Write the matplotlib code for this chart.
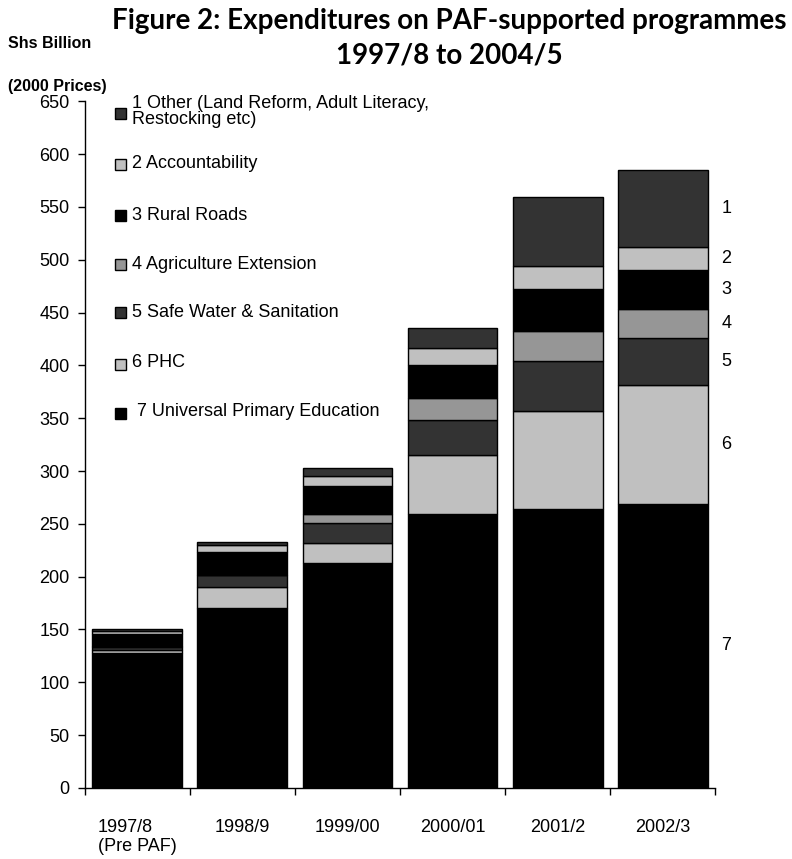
import matplotlib
matplotlib.use('Agg')
import matplotlib.pyplot as plt
from matplotlib.patches import Rectangle
import numpy as np

# Data (Shs Billion, 2000 prices)
years = ['1997/8\n(Pre PAF)', '1998/9', '1999/00', '2000/01', '2001/2', '2002/3']
upe = [128, 170.5, 212.5, 259, 264.5, 269]
phc = [3, 20, 19, 56.5, 92, 112.5]
water = [2.5, 11, 19, 33, 47.5, 44]
agri = [0.5, 0.5, 9, 21, 28.5, 27.5]
roads = [11.5, 21.5, 26, 30.5, 39.5, 37]
account = [3, 6.5, 9.5, 16.5, 22, 22.5]
other = [1.5, 2.5, 8, 18.5, 65.5, 72.5]

# stacking order, bottom to top
series = [upe, phc, water, agri, roads, account, other]
colors = ['#000000', '#c0c0c0', '#333333', '#969696', '#000000', '#c0c0c0', '#333333']
legend_labels = ['1 Other (Land Reform, Adult Literacy,\nRestocking etc)',
                 '2 Accountability', '3 Rural Roads', '4 Agriculture Extension',
                 '5 Safe Water & Sanitation', '6 PHC', ' 7 Universal Primary Education']
side_labels = ['7', '6', '5', '4', '3', '2', '1']

plt.rcParams['font.family'] = ['Liberation Sans', 'DejaVu Sans']

fig = plt.figure(figsize=(7.92, 8.59), dpi=100)
ax = fig.add_axes([0.1073, 0.0827, 0.7955, 0.7994])

x = np.arange(len(years))
bottom = np.zeros(len(years))
for vals, c in zip(series, colors):
    ax.bar(x, vals, bottom=bottom, width=0.857, color=c, edgecolor='black', linewidth=1.0)
    bottom += np.array(vals)

# segment numbers to the right of the last bar
base = 0
for vals, lab in zip(series, side_labels):
    mid = base + vals[-1] / 2
    ax.text(x[-1] + 0.56, mid, lab, ha='left', va='center', fontsize=13)
    base += vals[-1]

ax.set_xlim(-0.5, 5.5)
ax.set_ylim(0, 650)
ax.set_yticks(np.arange(0, 651, 50))
ax.tick_params(axis='y', direction='out', length=5, width=1, labelsize=13, pad=6)

ax.set_xticks(x)
ax.set_xticklabels(years, fontsize=13, multialignment='left')
ax.tick_params(axis='x', which='major', length=0, pad=22)
ax.set_xticks(np.arange(-0.5, 6, 1), minor=True)
ax.tick_params(axis='x', which='minor', direction='out', length=5, width=1)

for s in ['top', 'right']:
    ax.spines[s].set_visible(False)
ax.spines['left'].set_linewidth(1)
ax.spines['bottom'].set_linewidth(1)

# legend drawn by hand, stacked like the original
leg_colors = colors[::-1]
leg_y = [0.982, 0.908, 0.834, 0.762, 0.692, 0.617, 0.545]
text_dy = [0.003, 0.002, 0.0, 0.0, 0.0, 0.003, 0.003]
for lab, c, yy, dy in zip(legend_labels, leg_colors, leg_y, text_dy):
    ax.add_patch(Rectangle((0.048, yy - 0.008), 0.0175, 0.016, transform=ax.transAxes,
                           facecolor=c, edgecolor='black', linewidth=1, clip_on=False))
    ax.text(0.0745, yy + dy, lab, transform=ax.transAxes, ha='left', va='center',
            fontsize=13, linespacing=0.9)

fig.text(0.567, 1 - 8 / 859, 'Figure 2: Expenditures on PAF-supported programmes\n1997/8 to 2004/5',
         ha='center', va='top', fontsize=20, fontweight='bold', family='Lato', linespacing=1.4)
fig.text(0.01, 1 - 43 / 859, 'Shs Billion', ha='left', va='center', fontsize=11.5, fontweight='bold')
fig.text(0.01, 1 - 86 / 859, '(2000 Prices)', ha='left', va='center', fontsize=11.5, fontweight='bold')

plt.savefig('out.png', dpi=100)
